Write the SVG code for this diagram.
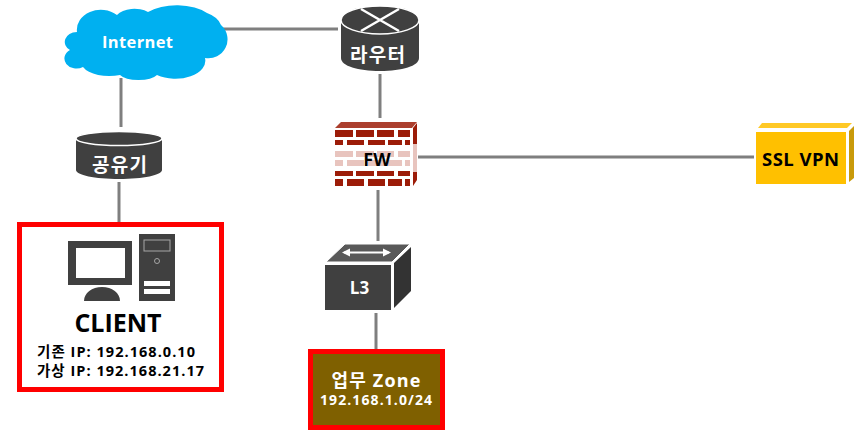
<svg xmlns="http://www.w3.org/2000/svg" width="860" height="438" viewBox="0 0 860 438">
<style>
text{font-family:"Open Sans","Noto Sans CJK KR","Noto Sans",sans-serif;font-weight:700;text-anchor:middle}
.w{fill:#fff}.k{fill:#000}
.l{stroke:#7f7f7f;stroke-width:3;fill:none}
.d{fill:#404040}
.b{fill:#9c1c08}
.p{fill:#e8c4be}
</style>
<rect width="860" height="438" fill="#fff"/>
<g id="connectors">
<path class="l" d="M222 29H338"/>
<path class="l" d="M121 78V127"/>
<path class="l" d="M119 182V234"/>
<path class="l" d="M380 74V118"/>
<path class="l" d="M418 157H754"/>
<path class="l" d="M378 190V241"/>
<path class="l" d="M376 313V350"/>
</g>
<g id="internet">
<path d="M77 32A24 20 0 0 1 117 15A20 12 0 0 1 148 12A36 17 0 0 1 207 13Q218 17 221 25A19 19 0 0 1 205 58A30 18 0 0 1 157 75A20 8 0 0 1 120 75A28 14 0 0 1 83 67A12 10 0 0 1 70 50A13 10 0 0 1 77 32Z" fill="#00b0f0"/>
<text x="137.500" y="48" font-size="16.500" class="w" textLength="71" lengthAdjust="spacing">Internet</text>
</g>
<g id="router">
<path class="d" d="M341 20V58C341 66 358 71 380 71C402 71 419 66 419 58V20Z"/>
<ellipse cx="380" cy="20" rx="39" ry="14" class="d" stroke="#fff" stroke-width="1.500"/>
<path d="M361 9L399 31M399 9L361 31" stroke="#fff" stroke-width="2.500" fill="none"/>
<text x="377.500" y="62" font-size="19" class="w" textLength="55" lengthAdjust="spacing">라우터</text>
</g>
<g id="fw">
<path class="b" d="M335 128L341 122H417L412 128Z" opacity=".85"/>
<path class="b" d="M413 128L417 123V180L413 186Z"/>
<path fill="#e8c4be" d="M413 144L417 144V172L413 172Z"/>
<path class="b" d="M335 130h18v7h-18zM356 130h18v7h-18zM377 130h17v7h-17zM398 130h12v7h-12zM335 140h8v5h-8zM347 140h17v5h-17zM368 140h17v5h-17zM388 140h14v5h-14zM405 140h5v5h-5z"/>
<path class="p" d="M335 151h18v6h-18zM356 151h18v6h-18zM377 151h17v6h-17zM398 151h12v6h-12zM335 160h8v6h-8zM347 160h17v6h-17zM368 160h17v6h-17zM388 160h14v6h-14zM405 160h5v6h-5z"/>
<path class="b" d="M335 171h18v5h-18zM356 171h18v5h-18zM377 171h17v5h-17zM398 171h12v5h-12zM335 179h8v7h-8zM347 179h17v7h-17zM368 179h17v7h-17zM388 179h14v7h-14zM405 179h5v7h-5z"/>
<text x="377" y="166" font-size="18" class="k">FW</text>
</g>
<g id="ssl-vpn">
<path d="M758 128L762 123H852L847 128Z" fill="#ffc000" opacity=".85"/>
<path d="M849 131L854 126V178L849 182Z" fill="#c99a0a"/>
<rect x="756" y="132" width="90" height="52" fill="#ffc000"/>
<text x="800.500" y="166" font-size="18.500" class="k" textLength="77" lengthAdjust="spacing">SSL VPN</text>
</g>
<g id="gonguyugi">
<path class="d" d="M76 138V170C76 175 95 179 119 179C143 179 162 175 162 170V138Z"/>
<ellipse cx="119" cy="138.500" rx="43" ry="7" class="d" stroke="#fff" stroke-width="1.500"/>
<text x="119.500" y="172" font-size="19" class="w" textLength="55" lengthAdjust="spacing">공유기</text>
</g>
<g id="client">
<rect x="19.500" y="224.500" width="202" height="165" fill="#fff" stroke="#f00" stroke-width="5"/>
<rect x="68" y="241" width="64" height="44" class="d"/>
<rect x="76" y="248" width="49" height="30" fill="#fff"/>
<path class="d" d="M84 301C84 293 92 287 102 287C112 287 120 293 120 301Z"/>
<rect x="139" y="234" width="36" height="67" class="d"/>
<rect x="144" y="240" width="26" height="11" class="d" stroke="#a6a6a6"/>
<circle cx="157" cy="261" r="2.500" class="d" stroke="#a6a6a6"/>
<rect x="144" y="281" width="26" height="5" fill="#fff"/>
<rect x="144" y="289" width="26" height="5" fill="#fff"/>
<text x="118" y="332" font-size="25" class="k">CLIENT</text>
<text x="116" y="357" font-size="14.500" class="k" textLength="158" lengthAdjust="spacing">기존 IP: 192.168.0.10</text>
<text x="120.500" y="376" font-size="14.500" class="k" textLength="167" lengthAdjust="spacing">가상 IP: 192.168.21.17</text>
</g>
<g id="l3">
<path fill="#595959" stroke="#fff" d="M326 262L345 244H410L392 262Z"/>
<path fill="#333" d="M394 263L411 247V291L394 308Z"/>
<rect x="324.500" y="264.500" width="67" height="46" class="d" stroke="#fff"/>
<path d="M344 252.500H389" stroke="#fff" stroke-width="2" fill="none"/>
<path d="M342 252.500L350 248.500V256.500ZM391 252.500L383 248.500V256.500Z" fill="#fff"/>
<text x="359.500" y="294" font-size="17" class="w">L3</text>
</g>
<g id="zone">
<rect x="310.500" y="351.500" width="132" height="76" fill="#7f6000" stroke="#f00" stroke-width="5"/>
<text x="376" y="387" font-size="18" class="w" textLength="89" lengthAdjust="spacing">업무 Zone</text>
<text x="376" y="405" font-size="14" class="w" textLength="112" lengthAdjust="spacing">192.168.1.0/24</text>
</g>
</svg>
